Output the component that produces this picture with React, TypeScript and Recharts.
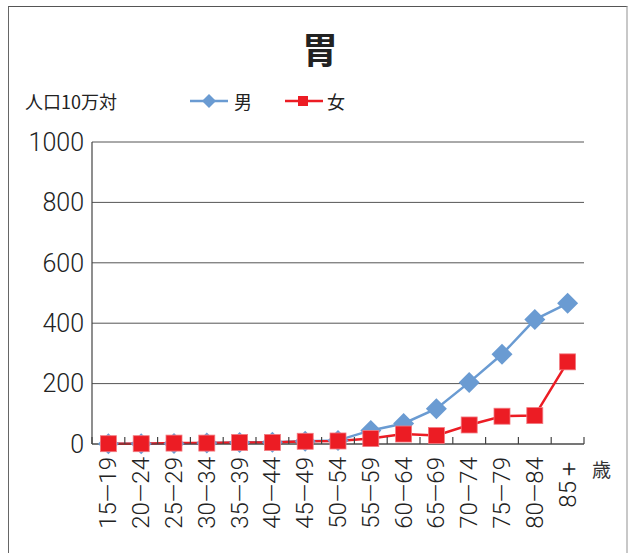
import { LineChart, Line, XAxis, YAxis, CartesianGrid } from 'recharts'

const ageGroups = ['15—19', '20—24', '25—29', '30—34', '35—39', '40—44', '45—49', '50—54', '55—59', '60—64', '65—69', '70—74', '75—79', '80—84', '85＋']
const male = [1, 1, 2, 3, 5, 6, 9, 12, 45, 68, 117, 204, 297, 412, 466]
const female = [1, 1, 3, 3, 5, 5, 9, 10, 18, 33, 28, 63, 92, 94, 272]
const yTicks = [0, 200, 400, 600, 800, 1000]

const data = ageGroups.map((age, i) => ({ age, male: male[i], female: female[i] }))

const W = 629
const H = 553
const YW = 92
const MR = 45
const FONT = "'Noto Sans CJK JP', 'Noto Sans', sans-serif"
const NUM_FONT = "Roboto, 'Noto Sans', sans-serif"
const BLUE = '#6a9bd2'
const RED = '#ec1c24'
const bw = (W - YW - MR) / ageGroups.length

const Diamond = (props: any) => {
  const { cx, cy } = props
  const r = 10.5
  if (cx == null || cy == null) return null
  return <polygon points={`${cx},${cy - r} ${cx + r},${cy} ${cx},${cy + r} ${cx - r},${cy}`} fill={BLUE} />
}

const Square = (props: any) => {
  const { cx, cy } = props
  const s = 16
  if (cx == null || cy == null) return null
  return <rect x={cx - s / 2} y={cy - s / 2} width={s} height={s} fill={RED} stroke="#f27a80" strokeWidth={0.8} />
}

const AgeTick = (props: any) => {
  const { x, y, payload, index } = props
  const axisY = y - 13
  return (
    <g>
      <line x1={x - bw / 2} y1={axisY} x2={x - bw / 2} y2={axisY - 7} stroke="#444" strokeWidth={1.2} />
      {index === ageGroups.length - 1 && (
        <line x1={x + bw / 2} y1={axisY} x2={x + bw / 2} y2={axisY - 7} stroke="#444" strokeWidth={1.2} />
      )}
      <text
        x={x}
        y={y}
        transform={`rotate(-90, ${x}, ${y})`}
        textAnchor="end"
        dominantBaseline="central"
        fontSize={24}
        fontFamily={NUM_FONT}
        fontWeight={300}
        fill="#222"
      >
        {payload.value}
      </text>
    </g>
  )
}

export default function App() {
  return (
    <div style={{ position: 'absolute', left: 0, top: 0, width: W, height: H, overflow: 'hidden', background: '#fff' }}>
      <div
        style={{
          position: 'absolute', left: 8, top: 6, width: 617, height: 600,
          borderLeft: '1.5px solid #666', borderTop: '1.5px solid #555', borderRight: '2px solid #c8c8c8',
        }}
      />
      <div style={{ position: 'absolute', left: 0, width: 640, top: 22, textAlign: 'center', fontFamily: FONT, fontSize: 36, fontWeight: 700, color: '#222' }}>
        胃
      </div>
      <div style={{ position: 'absolute', left: 25, top: 88, fontFamily: FONT, fontSize: 18, color: '#222' }}>
        人口10万対
      </div>
      <div style={{ position: 'absolute', left: 190, top: 88, display: 'flex', alignItems: 'center', fontFamily: FONT, fontSize: 18, color: '#222' }}>
        <svg width={40} height={16}>
          <line x1={0} y1={8} x2={38} y2={8} stroke={BLUE} strokeWidth={2.5} />
          <polygon points="19,1 26,8 19,15 12,8" fill={BLUE} />
        </svg>
        <span style={{ marginLeft: 4 }}>男</span>
        <svg width={40} height={16} style={{ marginLeft: 33 }}>
          <line x1={0} y1={8} x2={38} y2={8} stroke={RED} strokeWidth={2.5} />
          <rect x={13} y={3} width={10} height={10} fill={RED} />
        </svg>
        <span style={{ marginLeft: 2 }}>女</span>
      </div>
      <div style={{ position: 'absolute', left: 592, top: 455, fontFamily: FONT, fontSize: 19, color: '#333' }}>
        歳
      </div>
      <div style={{ position: 'absolute', left: 0, top: 0 }}>
        <LineChart width={W} height={H} data={data} margin={{ top: 142, right: MR, left: 0, bottom: 0 }}>
          <CartesianGrid vertical={false} stroke="#555" strokeWidth={1} />
          <XAxis
            dataKey="age"
            scale="band"
            interval={0}
            height={109}
            axisLine={{ stroke: '#444', strokeWidth: 1.2 }}
            tickLine={false}
            tickSize={0}
            tickMargin={13}
            tick={<AgeTick />}
          />
          <YAxis
            domain={[0, 1000]}
            ticks={yTicks}
            width={YW}
            axisLine={{ stroke: '#444', strokeWidth: 1.2 }}
            tickLine={false}
            tickSize={0}
            tickMargin={8}
            tick={{ fontSize: 25, fontFamily: NUM_FONT, fontWeight: 300, fill: '#222' }}
          />
          <Line dataKey="male" name="男" stroke={BLUE} strokeWidth={2.5} dot={<Diamond />} isAnimationActive={false} />
          <Line dataKey="female" name="女" stroke={RED} strokeWidth={2.5} dot={<Square />} isAnimationActive={false} />
        </LineChart>
      </div>
    </div>
  )
}
